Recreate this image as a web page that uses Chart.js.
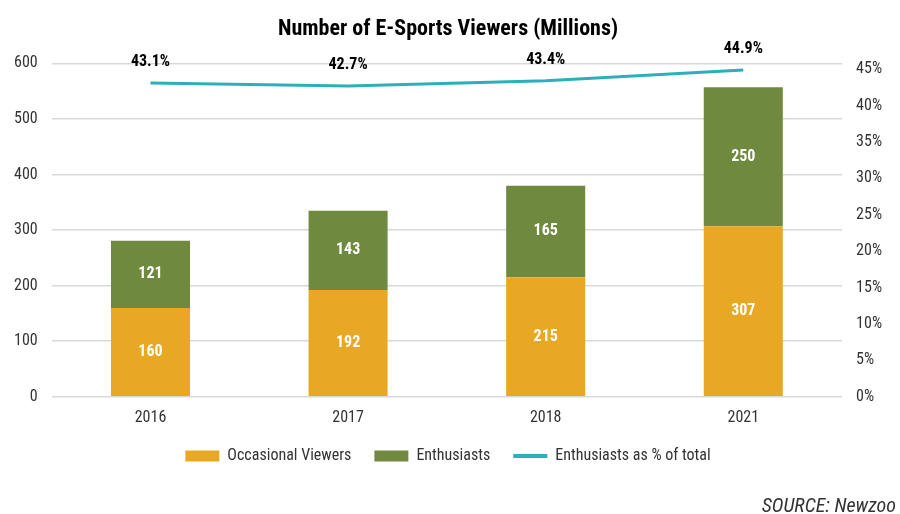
<!DOCTYPE html>
<html><head><meta charset="utf-8">
<script src="https://cdn.jsdelivr.net/npm/chart.js@4/dist/chart.umd.min.js"></script>
<style>html,body{margin:0;padding:0;background:#fff}#wrap{width:900px;height:514px}</style>
</head><body><div id="wrap"><canvas id="c" width="900" height="514"></canvas></div>
<script>
const categories = ["2016", "2017", "2018", "2021"];
const occasional = [160, 192, 215, 307];
const enthusiasts = [121, 143, 165, 250];
const enthusiastPct = [43.1, 42.7, 43.4, 44.9];
const leftTicks = [0, 100, 200, 300, 400, 500, 600];
const rightTicks = [0, 5, 10, 15, 20, 25, 30, 35, 40, 45];

const FONT = "'Roboto Condensed', 'Liberation Sans Narrow', 'Roboto', sans-serif";
const ORANGE = '#E9A823', GREEN = '#6F8A3E', TEAL = '#2BAFBB';

const labelPlugin = {
  id: 'valueLabels',
  afterDatasetsDraw(chart) {
    const ctx = chart.ctx;
    ctx.save();
    ctx.textAlign = 'center';
    ctx.textBaseline = 'middle';
    [0, 1].forEach(di => {
      const meta = chart.getDatasetMeta(di);
      meta.data.forEach((bar, i) => {
        ctx.font = "bold 16px " + FONT;
        ctx.fillStyle = '#ffffff';
        ctx.fillText(String(chart.data.datasets[di].data[i]), bar.x, (bar.y + bar.base) / 2);
      });
    });
    const lm = chart.getDatasetMeta(2);
    lm.data.forEach((pt, i) => {
      ctx.font = "bold 16px " + FONT;
      ctx.fillStyle = '#000000';
      ctx.fillText(enthusiastPct[i].toFixed(1) + '%', pt.x, pt.y - 21);
    });
    ctx.restore();
  }
};

new Chart(document.getElementById('c'), {
  data: {
    labels: categories,
    datasets: [
      { type: 'bar', label: 'Occasional Viewers', data: occasional, backgroundColor: ORANGE, yAxisID: 'y', stack: 's', order: 2 },
      { type: 'bar', label: 'Enthusiasts', data: enthusiasts, backgroundColor: GREEN, yAxisID: 'y', stack: 's', order: 2 },
      { type: 'line', label: 'Enthusiasts as % of total', data: enthusiastPct, borderColor: TEAL, backgroundColor: TEAL, borderWidth: 3, pointRadius: 0, yAxisID: 'y1', tension: 0, order: 1 }
    ]
  },
  options: {
    responsive: false,
    animation: false,
    devicePixelRatio: 1,
    layout: { padding: { left: 0, right: 4, top: 6, bottom: 0 } },
    datasets: { bar: { barPercentage: 0.8, categoryPercentage: 0.5 } },
    scales: {
      x: {
        stacked: true,
        afterFit(scale) { scale.height -= 15; },
        grid: { display: false, drawTicks: false },
        border: { display: false },
        ticks: { color: '#333', font: { family: FONT, size: 16 }, padding: 12 }
      },
      y: {
        stacked: true, min: 0, max: 600,
        afterBuildTicks(axis) { axis.ticks = leftTicks.map(v => ({ value: v })); },
        grid: { color: '#d9d9d9', lineWidth: 1.5, drawTicks: false },
        border: { display: false },
        ticks: { color: '#333', font: { family: FONT, size: 16 }, padding: 14 }
      },
      y1: {
        position: 'right', min: 0, max: 45.8,
        afterBuildTicks(axis) { axis.ticks = rightTicks.map(v => ({ value: v })); },
        grid: { display: false, drawTicks: false },
        border: { display: false },
        ticks: { color: '#333', font: { family: FONT, size: 16 }, padding: 14, callback: v => v + '%' }
      }
    },
    plugins: {
      title: { display: true, text: 'Number of E-Sports Viewers (Millions)', color: '#000', font: { family: FONT, size: 22, weight: 'bold' }, padding: { top: 10, bottom: 21 } },
      subtitle: { display: true, position: 'bottom', align: 'end', text: 'SOURCE: Newzoo', color: '#333', font: { family: FONT, size: 20, style: 'italic' }, padding: { top: 21, bottom: -5 } },
      legend: {
        position: 'bottom',
        labels: {
          usePointStyle: true, pointStyleWidth: 34, boxHeight: 11, padding: 23,
          color: '#333', font: { family: FONT, size: 16 },
          sort: (a, b) => a.datasetIndex - b.datasetIndex,
          generateLabels(chart) {
            const items = Chart.defaults.plugins.legend.labels.generateLabels(chart);
            items.forEach(it => {
              if (it.datasetIndex === 2) { it.pointStyle = 'line'; it.lineWidth = 4; it.strokeStyle = TEAL; }
              else { it.pointStyle = 'rect'; it.lineWidth = 0; }
            });
            return items;
          }
        }
      },
      tooltip: { enabled: false }
    }
  },
  plugins: [labelPlugin]
});
</script>
</body></html>
